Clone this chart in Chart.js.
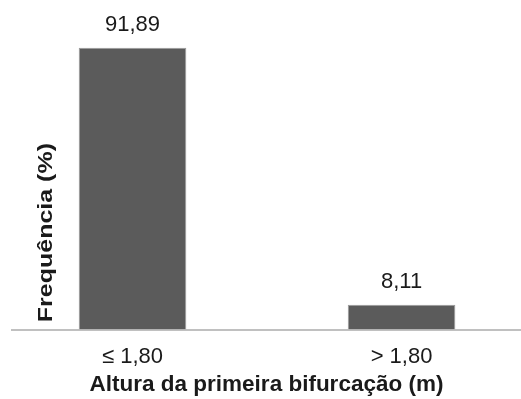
<!DOCTYPE html>
<html>
<head>
<meta charset="utf-8">
<script src="https://cdn.jsdelivr.net/npm/chart.js@4.4.1/dist/chart.umd.min.js"></script>
<style>
  html, body { margin: 0; padding: 0; background: #fff; }
  #wrap { width: 521px; height: 399px; position: relative; }
</style>
</head>
<body>
<div id="wrap"><canvas id="bars"></canvas></div>
<script>
// chart values
const categories = ['≤ 1,80', '> 1,80'];   // x-axis category labels
const frequency = [91.89, 8.11];           // Frequência (%)
const yTitle = 'Frequência (%)';
const xTitle = 'Altura da primeira bifurcação (m)';

const FONT = '"Liberation Sans", Arial, sans-serif';
const INK = '#1a1a1a';

// 91.89 -> "91,89"
const fmt = v => v.toFixed(2).replace('.', ',');

// value labels above each bar
const valueLabels = {
    id: 'valueLabels',
    afterDatasetsDraw(chart) {
        const ctx = chart.ctx;
        const meta = chart.getDatasetMeta(0);
        ctx.save();
        ctx.font = '22px ' + FONT;
        ctx.fillStyle = INK;
        ctx.textAlign = 'center';
        ctx.textBaseline = 'alphabetic';
        meta.data.forEach((bar, i) => {
            ctx.fillText(fmt(frequency[i]), bar.x, bar.y - 17);
        });
        ctx.restore();
    }
};

// y title sits over the left edge of the plot area, so draw it by hand
const sideTitle = {
    id: 'sideTitle',
    afterDraw(chart) {
        const ctx = chart.ctx;
        const area = chart.chartArea;
        ctx.save();
        ctx.translate(area.left + 34, area.bottom - 97);
        ctx.rotate(-Math.PI / 2);
        ctx.scale(1.25, 1);
        ctx.font = 'bold 20px ' + FONT;
        ctx.fillStyle = INK;
        ctx.textAlign = 'center';
        ctx.textBaseline = 'middle';
        ctx.fillText(yTitle, 0, 0);
        ctx.restore();
    }
};

const chart = new Chart(document.getElementById('bars'), {
    type: 'bar',
    data: {
        datasets: [{
            label: yTitle,
            data: categories.map((c, i) => ({ x: i, y: frequency[i] })),
            backgroundColor: '#5b5b5b',
            borderColor: '#9a9a9a',
            borderWidth: 1,
            barPercentage: 0.4,
            categoryPercentage: 1
        }]
    },
    plugins: [valueLabels, sideTitle],
    options: {
        responsive: true,
        maintainAspectRatio: false,
        animation: false,
        layout: { padding: { top: 23, left: 12, right: 0, bottom: 0 } },
        scales: {
            x: {
                type: 'linear',
                offset: false,
                min: -0.448,
                max: 1.444,
                grid: { display: false, drawTicks: false },
                border: { display: true, color: '#c0c0c0', width: 2 },
                ticks: {
                    stepSize: 1,
                    includeBounds: false,
                    autoSkip: false,
                    maxRotation: 0,
                    padding: 14,
                    color: INK,
                    font: { family: FONT, size: 22 },
                    callback: v => categories[v] ?? ''
                },
                title: {
                    display: true,
                    text: xTitle,
                    color: INK,
                    font: { family: FONT, size: 22.5, weight: 'bold' },
                    padding: { top: -13, bottom: 1 }
                }
            },
            y: {
                display: false,
                min: 0,
                max: 100
            }
        },
        plugins: {
            legend: { display: false },
            tooltip: { enabled: false }
        }
    }
});
</script>
</body>
</html>
